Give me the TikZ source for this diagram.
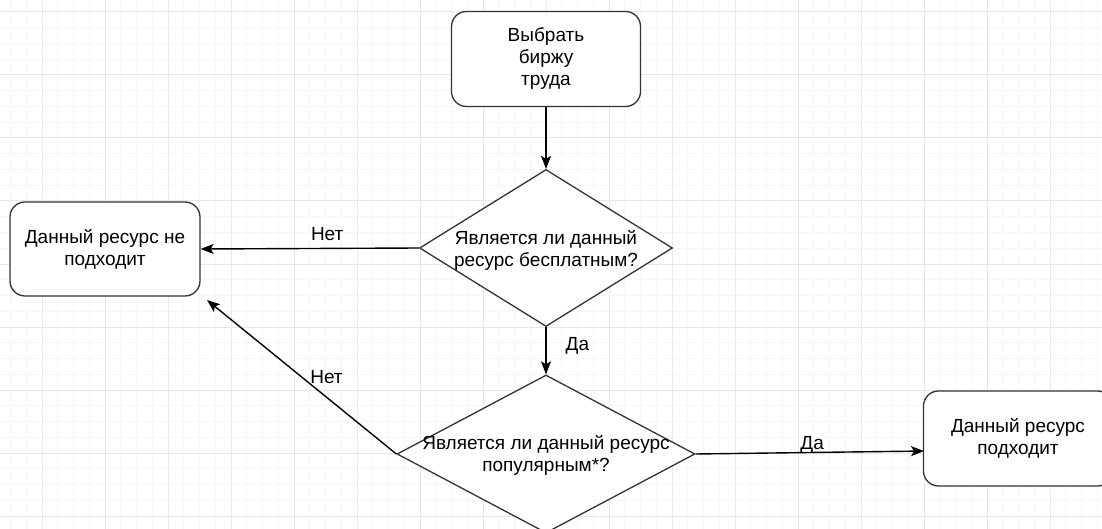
\documentclass[tikz,border=0pt]{standalone}
\usepackage{fontspec}
\setmainfont{Liberation Sans}
\usetikzlibrary{shapes.geometric,arrows.meta}
\definecolor{gridminor}{HTML}{F6F6F6}
\definecolor{gridmajor}{HTML}{E8E8E8}
\definecolor{edge}{HTML}{333333}
\begin{document}
\begin{tikzpicture}[x=1pt,y=-1pt,font=\fontsize{19}{22}\selectfont,
  box/.style={draw=edge,line width=1.3pt,rounded corners=15pt,fill=white,minimum width=189pt,minimum height=95pt,align=center,inner sep=0pt},
  decision/.style={draw=edge,line width=1.3pt,diamond,fill=white,inner sep=0pt},
  qtext/.style={align=center,inner sep=0pt},
  arr/.style={line width=1.4pt,-{Stealth[length=13pt,width=10pt,inset=3pt]}},
  lbl/.style={inner sep=0pt}]
\useasboundingbox (0,0) rectangle (1102,529);
\fill[white] (0,0) rectangle (1102,529);
\foreach \x in {10.5,26.25,...,1102} \draw[gridminor,line width=1pt] (\x,0) -- (\x,529);
\foreach \y in {12,27.75,...,529} \draw[gridminor,line width=1pt] (0,\y) -- (1102,\y);
\foreach \x in {42,105,...,1102} \draw[gridmajor,line width=1pt] (\x,0) -- (\x,529);
\foreach \y in {12,75,...,529} \draw[gridmajor,line width=1pt] (0,\y) -- (1102,\y);
\node[box] (start) at (546,59) {Выбрать\\биржу\\труда};
\node[decision,minimum width=253pt,minimum height=157pt] (dec1) at (546,248) {};
\node[qtext] (dec1txt) at (546,250) {Является ли данный\\ресурс бесплатным?};
\node[box,minimum width=190pt,minimum height=94pt] (no) at (105,249) {Данный ресурс не\\подходит};
\node[decision,minimum width=298pt,minimum height=158pt] (dec2) at (546,454) {};
\node[qtext] (dec2txt) at (546,455) {Является ли данный ресурс\\популярным*?};
\node[box] (yes) at (1018,438.5) {Данный ресурс\\подходит};
\coordinate (noin) at (207,300);
\coordinate (yesin) at (924,451);
\draw[arr] (start) -- (dec1);
\draw[arr] (dec1.west) -- node[lbl,pos=0.42,anchor=base,yshift=7.5pt] {Нет} (no.east);
\draw[arr] (dec1) -- node[lbl,pos=0.5,anchor=base west,xshift=19pt] {Да} (dec2);
\draw[arr] (dec2.west) -- node[lbl,pos=0.458,anchor=base west] {Нет} (noin);
\draw[arr] (dec2.east) -- node[lbl,pos=0.51,anchor=base,yshift=3pt] {Да} (yesin);
\end{tikzpicture}
\end{document}
